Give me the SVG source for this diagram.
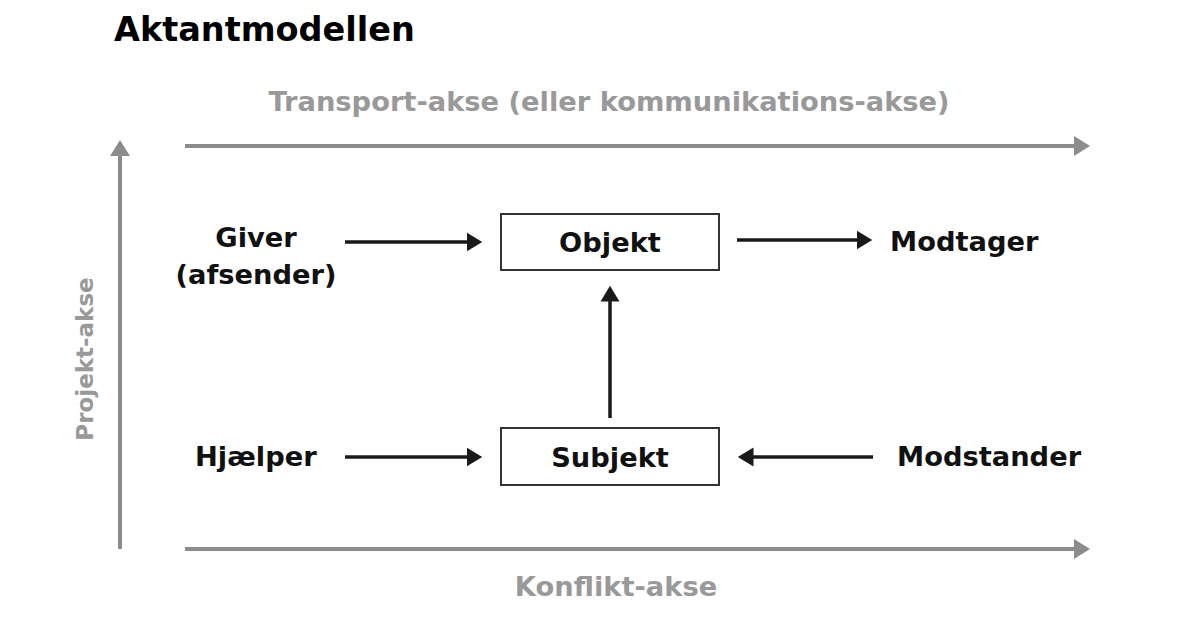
<svg xmlns="http://www.w3.org/2000/svg" width="1189" height="620" viewBox="0 0 1189 620">
<style>
text{font-family:"DejaVu Sans",Verdana,sans-serif;font-weight:bold}
.lbl{font-size:27.3px;fill:#111}
.ax{font-size:27.3px;fill:#999}
.box{fill:#fff;stroke:#333;stroke-width:2}
.ga{stroke:#8c8c8c;stroke-width:4;fill:none}
.ba{stroke:#1a1a1a;stroke-width:3.5;fill:none}
</style>
<defs>
<marker id="gh" markerWidth="6" markerHeight="6" refX="1" refY="3" orient="auto" markerUnits="strokeWidth"><path d="M0,0.5 L4,3 L0,5.5 z" fill="#8c8c8c"/></marker>
<marker id="bh" markerWidth="6" markerHeight="6" refX="1" refY="3" orient="auto" markerUnits="strokeWidth"><path d="M0,0.3 L4.5,3 L0,5.7 z" fill="#1a1a1a"/></marker>
</defs>
<rect width="1189" height="620" fill="#fff"/>
<text x="114" y="41" style="font-size:33.5px;fill:#000">Aktantmodellen</text>
<g id="axes">
<text x="609" y="111" text-anchor="middle" class="ax">Transport-akse (eller kommunikations-akse)</text>
<text x="616" y="596" text-anchor="middle" class="ax">Konflikt-akse</text>
<text transform="translate(93,359) rotate(-90)" text-anchor="middle" class="ax" style="font-size:23px">Projekt-akse</text>
</g>
<g id="connectors">
<line class="ga" x1="185" y1="146" x2="1078" y2="146" marker-end="url(#gh)"/>
<line class="ga" x1="185" y1="549" x2="1078" y2="549" marker-end="url(#gh)"/>
<line class="ga" x1="120" y1="549" x2="120" y2="152" marker-end="url(#gh)"/>
<line class="ba" x1="345" y1="242" x2="470" y2="242" marker-end="url(#bh)"/>
<line class="ba" x1="737" y1="240" x2="860" y2="240" marker-end="url(#bh)"/>
<line class="ba" x1="610" y1="418" x2="610" y2="298" marker-end="url(#bh)"/>
<line class="ba" x1="345" y1="457" x2="470" y2="457" marker-end="url(#bh)"/>
<line class="ba" x1="873" y1="457" x2="750" y2="457" marker-end="url(#bh)"/>
</g>
<g id="objekt"><rect class="box" x="501" y="214" width="218" height="56"/><text x="610" y="252" text-anchor="middle" class="lbl">Objekt</text></g>
<g id="subjekt"><rect class="box" x="501" y="428" width="218" height="57"/><text x="610" y="467" text-anchor="middle" class="lbl">Subjekt</text></g>
<g id="giver"><text x="256" y="247" text-anchor="middle" class="lbl">Giver</text><text x="256" y="284" text-anchor="middle" class="lbl">(afsender)</text></g>
<g id="modtager"><text x="890" y="251" class="lbl">Modtager</text></g>
<g id="hjaelper"><text x="195" y="466" class="lbl">Hjælper</text></g>
<g id="modstander"><text x="897" y="466" class="lbl">Modstander</text></g>
</svg>
